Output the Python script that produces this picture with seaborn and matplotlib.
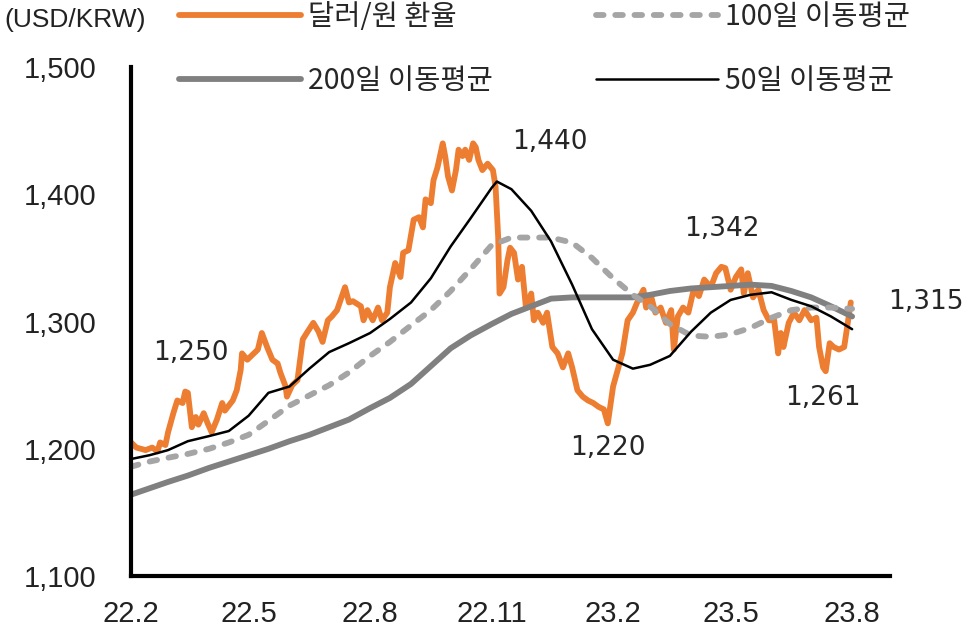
import pandas as pd
import matplotlib.pyplot as plt
import matplotlib.dates as mdates
from matplotlib.ticker import FuncFormatter
import seaborn as sns

# 달러/원 환율
fx_dates = ["2022-02-01", "2022-02-05", "2022-02-12", "2022-02-17", "2022-02-21", "2022-02-23", "2022-02-27", "2022-03-01", "2022-03-05", "2022-03-08",
            "2022-03-12", "2022-03-14", "2022-03-16", "2022-03-19", "2022-03-22", "2022-03-24", "2022-03-28", "2022-03-31", "2022-04-03", "2022-04-07",
            "2022-04-11", "2022-04-13", "2022-04-19", "2022-04-22", "2022-04-25", "2022-04-26", "2022-04-30", "2022-05-04", "2022-05-08", "2022-05-11",
            "2022-05-15", "2022-05-19", "2022-05-23", "2022-05-25", "2022-05-29", "2022-05-30", "2022-06-03", "2022-06-07", "2022-06-11", "2022-06-14",
            "2022-06-19", "2022-06-23", "2022-06-26", "2022-06-30", "2022-07-03", "2022-07-07", "2022-07-09", "2022-07-13", "2022-07-16", "2022-07-19",
            "2022-07-25", "2022-07-27", "2022-07-30", "2022-08-03", "2022-08-07", "2022-08-10", "2022-08-14", "2022-08-16", "2022-08-20", "2022-08-24",
            "2022-08-26", "2022-08-30", "2022-09-03", "2022-09-07", "2022-09-10", "2022-09-12", "2022-09-16", "2022-09-18", "2022-09-21", "2022-09-25",
            "2022-09-27", "2022-09-29", "2022-10-02", "2022-10-05", "2022-10-07", "2022-10-10", "2022-10-12", "2022-10-15", "2022-10-18", "2022-10-20",
            "2022-10-22", "2022-10-25", "2022-10-29", "2022-11-02", "2022-11-04", "2022-11-06", "2022-11-07", "2022-11-10", "2022-11-13", "2022-11-15",
            "2022-11-18", "2022-11-21", "2022-11-24", "2022-11-27", "2022-12-01", "2022-12-03", "2022-12-06", "2022-12-10", "2022-12-13", "2022-12-17",
            "2022-12-21", "2022-12-25", "2022-12-29", "2023-01-01", "2023-01-05", "2023-01-09", "2023-01-13", "2023-01-17", "2023-01-21", "2023-01-25",
            "2023-01-28", "2023-02-01", "2023-02-05", "2023-02-08", "2023-02-12", "2023-02-16", "2023-02-20", "2023-02-24", "2023-02-26", "2023-03-02",
            "2023-03-05", "2023-03-09", "2023-03-13", "2023-03-17", "2023-03-19", "2023-03-22", "2023-03-26", "2023-03-30", "2023-04-03", "2023-04-07",
            "2023-04-11", "2023-04-16", "2023-04-20", "2023-04-24", "2023-04-27", "2023-05-01", "2023-05-05", "2023-05-09", "2023-05-11", "2023-05-14",
            "2023-05-18", "2023-05-22", "2023-05-26", "2023-05-30", "2023-06-03", "2023-06-06", "2023-06-08", "2023-06-10", "2023-06-14", "2023-06-18",
            "2023-06-22", "2023-06-26", "2023-07-01", "2023-07-05", "2023-07-07", "2023-07-10", "2023-07-12", "2023-07-15", "2023-07-18", "2023-07-22",
            "2023-07-26", "2023-07-29", "2023-07-31"]
fx_values = [1205, 1201, 1199, 1201, 1198, 1205, 1203, 1213, 1228, 1238,
             1236, 1245, 1244, 1217, 1225, 1219, 1228, 1220, 1213, 1223,
             1236, 1230, 1238, 1246, 1262, 1275, 1270, 1274, 1278, 1291,
             1280, 1270, 1267, 1260, 1249, 1241, 1250, 1254, 1286, 1291,
             1299, 1292, 1284, 1301, 1304, 1309, 1315, 1327, 1315, 1316,
             1312, 1301, 1309, 1301, 1311, 1301, 1307, 1327, 1346, 1335,
             1354, 1356, 1380, 1382, 1374, 1396, 1393, 1411, 1421, 1440,
             1429, 1414, 1403, 1419, 1435, 1430, 1435, 1427, 1440, 1437,
             1427, 1419, 1424, 1419, 1406, 1366, 1322, 1327, 1348, 1358,
             1354, 1333, 1343, 1311, 1322, 1301, 1307, 1299, 1307, 1280,
             1275, 1264, 1275, 1264, 1246, 1241, 1238, 1236, 1233, 1231,
             1220, 1249, 1264, 1275, 1301, 1307, 1317, 1325, 1311, 1319,
             1307, 1311, 1299, 1309, 1278, 1304, 1311, 1307, 1325, 1320,
             1333, 1327, 1338, 1343, 1342, 1325, 1335, 1341, 1322, 1338,
             1319, 1325, 1309, 1301, 1301, 1275, 1291, 1280, 1299, 1307,
             1301, 1309, 1301, 1303, 1280, 1264, 1261, 1283, 1280, 1278,
             1280, 1301, 1315]

# moving averages, sampled twice a month
ma_dates = ["2022-02-01", "2022-02-15", "2022-03-01", "2022-03-16", "2022-04-01", "2022-04-16", "2022-05-01", "2022-05-16",
            "2022-06-01", "2022-06-16", "2022-07-01", "2022-07-16", "2022-08-01", "2022-08-16", "2022-09-01", "2022-09-16",
            "2022-10-01", "2022-10-16", "2022-11-01", "2022-11-16", "2022-12-01", "2022-12-16", "2023-01-01", "2023-01-16",
            "2023-02-01", "2023-02-16", "2023-03-01", "2023-03-16", "2023-04-01", "2023-04-16", "2023-05-01", "2023-05-16",
            "2023-06-01", "2023-06-16", "2023-07-01", "2023-07-16", "2023-08-01"]
ma100_values = [1186, 1190, 1193, 1196, 1200, 1205, 1211, 1222, 1234, 1242,
                1250, 1260, 1273, 1284, 1297, 1309, 1324, 1341, 1360, 1366,
                1366, 1366, 1362, 1350, 1334, 1321, 1312, 1298, 1289, 1288,
                1290, 1295, 1303, 1309, 1311, 1311, 1310]
ma200_values = [1164, 1169, 1174, 1179, 1185, 1190, 1195, 1200, 1206, 1211,
                1217, 1223, 1232, 1240, 1251, 1265, 1279, 1289, 1298, 1306,
                1312, 1318, 1319, 1319, 1319, 1319, 1321, 1324, 1326, 1327,
                1328, 1329, 1328, 1324, 1319, 1312, 1304]

ma50_dates = ["2022-02-01", "2022-02-15", "2022-03-01", "2022-03-16", "2022-04-01", "2022-04-16", "2022-05-01", "2022-05-16",
              "2022-06-01", "2022-06-16", "2022-07-01", "2022-07-16", "2022-08-01", "2022-08-16", "2022-09-01", "2022-09-16",
              "2022-10-01", "2022-10-16", "2022-11-01", "2022-11-05", "2022-11-16", "2022-12-01", "2022-12-16", "2023-01-01",
              "2023-01-16", "2023-02-01", "2023-02-16", "2023-03-01", "2023-03-16", "2023-04-01", "2023-04-16", "2023-05-01",
              "2023-05-16", "2023-06-01", "2023-06-16", "2023-07-01", "2023-07-16", "2023-08-01"]
ma50_values = [1192, 1195, 1199, 1206, 1210, 1214, 1226, 1244, 1249, 1263,
               1276, 1283, 1291, 1302, 1315, 1334, 1359, 1381, 1405, 1410,
               1404, 1387, 1363, 1329, 1294, 1270, 1263, 1266, 1273, 1292,
               1307, 1317, 1321, 1323, 1317, 1312, 1304, 1294]

# point labels: text, date, value where the text sits
label_texts = ["1,250", "1,440", "1,342", "1,315", "1,261", "1,220"]
label_dates = ["2022-03-18", "2022-12-15", "2023-04-24", "2023-09-26", "2023-07-10", "2023-01-28"]
label_values = [1275, 1441, 1373, 1315, 1240, 1201]

sns.set_theme(style="white")
plt.rcParams['font.family'] = ['Noto Sans CJK KR', 'DejaVu Sans']
narrow = ['Liberation Sans Narrow', 'Liberation Sans', 'DejaVu Sans']

fig = plt.figure(figsize=(9.71, 6.38), dpi=100)
ax = fig.add_axes([0.135, 0.097, 0.782, 0.798])

sns.lineplot(x=pd.to_datetime(fx_dates), y=fx_values, ax=ax, color='#ED7D31', lw=4.2,
             label='달러/원 환율')
sns.lineplot(x=pd.to_datetime(ma_dates), y=ma200_values, ax=ax, color='#808080', lw=4.2,
             label='200일 이동평균')
sns.lineplot(x=pd.to_datetime(ma_dates), y=ma100_values, ax=ax, color='#A5A5A5', lw=4.2,
             linestyle=(0, (1.3, 2.0)), dash_capstyle='round', label='100일 이동평균')
sns.lineplot(x=pd.to_datetime(ma50_dates), y=ma50_values, ax=ax, color='black', lw=1.8,
             label='50일 이동평균')

ax.set_xlim(pd.Timestamp("2022-02-01"), pd.Timestamp("2023-08-30"))
ax.set_ylim(1100, 1500)
ax.set_yticks([1100, 1200, 1300, 1400, 1500])
ax.yaxis.set_major_formatter(FuncFormatter(lambda v, p: f"{v:,.0f}"))
ax.xaxis.set_major_locator(mdates.MonthLocator(bymonth=[2, 5, 8, 11]))
ax.xaxis.set_major_formatter(FuncFormatter(lambda v, p: f"{mdates.num2date(v):%y}.{mdates.num2date(v).month}"))
ax.set_xlabel('')
ax.set_ylabel('')

sns.despine(ax=ax)
for s in ['left', 'bottom']:
    ax.spines[s].set_linewidth(3)
    ax.spines[s].set_color('black')
ax.tick_params(axis='both', direction='in', length=7, width=3, color='black', labelsize=21, labelcolor='#222222')
ax.tick_params(axis='y', pad=25)
ax.tick_params(axis='x', pad=17)
for lab in ax.get_xticklabels() + ax.get_yticklabels():
    lab.set_fontfamily(narrow)

for t, d, v in zip(label_texts, label_dates, label_values):
    ax.text(pd.Timestamp(d), v, t, ha='center', va='center', fontsize=19,
            color='#262626', family=['DejaVu Sans'])

fig.text(0.005, 0.968, '(USD/KRW)', ha='left', va='center', fontsize=19,
         color='#222222', family=narrow)

handles, labels = ax.get_legend_handles_labels()
ax.get_legend().remove()
fig.legend(handles, labels, ncol=2, loc='upper left', bbox_to_anchor=(0.184, 0.997),
           frameon=False, fontsize=20.5, handlelength=4.3, handletextpad=0.25,
           columnspacing=3.6, labelspacing=1.2, borderpad=0, borderaxespad=0)

fig.savefig('out.png', dpi=100)
